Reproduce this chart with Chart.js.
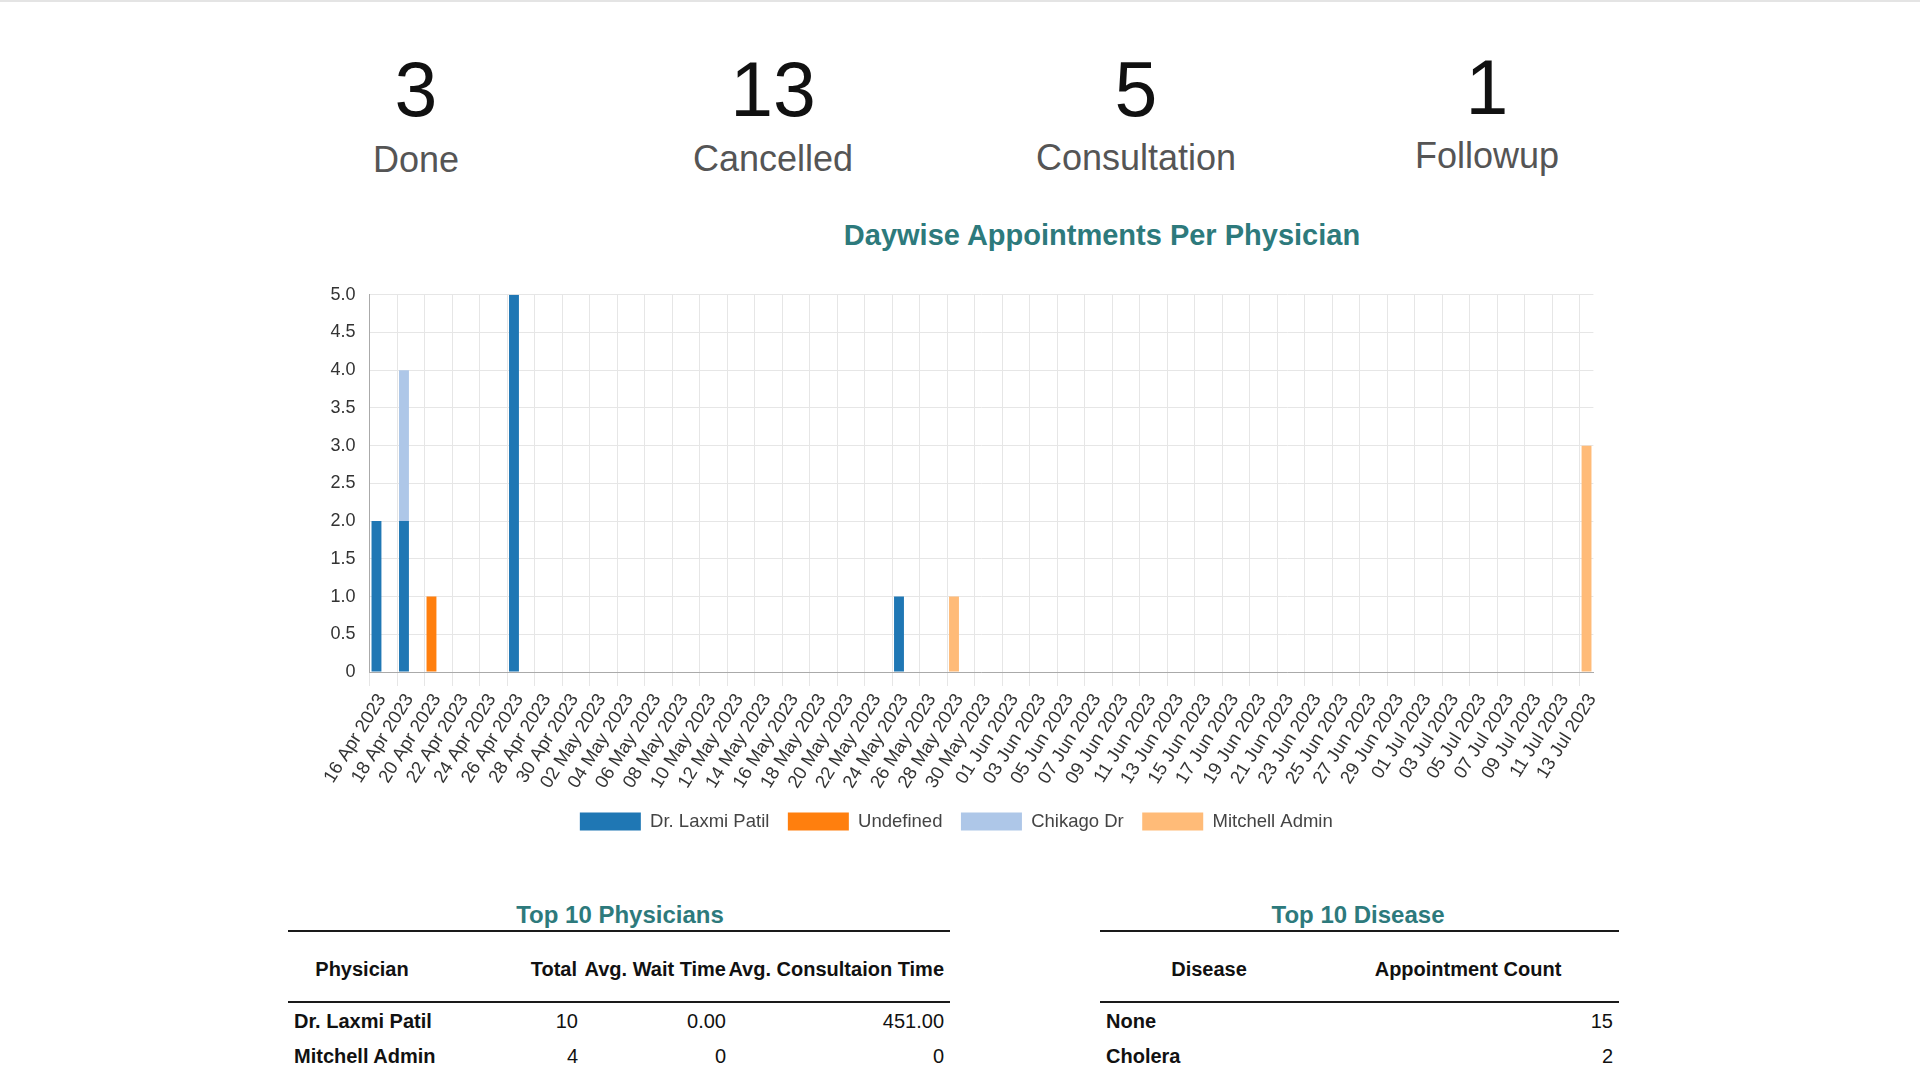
<!DOCTYPE html>
<html>
<head>
<meta charset="utf-8">
<script src="https://cdn.jsdelivr.net/npm/chart.js@4.4.0/dist/chart.umd.min.js"></script>
<style>
html,body{margin:0;padding:0;background:#fff;}
body{width:1920px;height:1066px;position:relative;overflow:hidden;font-family:'Liberation Sans',Arial,Helvetica,sans-serif;}
.topline{position:absolute;left:0;top:0;width:1920px;height:2px;background:#e4e4e4;}
.t{position:absolute;line-height:1;white-space:nowrap;}
.c{width:600px;text-align:center;}
.r{width:400px;text-align:right;}
.num{font-size:77px;color:#111;}
.lbl{font-size:36px;color:#555;}
.title{font-size:29px;font-weight:bold;color:#2d7a7c;}
.ttl{font-size:24px;font-weight:bold;color:#2d7a7c;}
.th{font-size:20px;font-weight:bold;color:#111;}
.td{font-size:20px;color:#111;}
.tb{font-size:20px;font-weight:bold;color:#111;}
.rule{position:absolute;height:2px;background:#1a1a1a;}
#chartBox{position:absolute;left:310px;top:270px;width:1312px;height:571px;}
</style>
</head>
<body>
<div class="topline"></div>

<div class="t c num" style="left:116px;top:50.5px;">3</div>
<div class="t c lbl" style="left:116px;top:142px;">Done</div>
<div class="t c num" style="left:473px;top:50.5px;">13</div>
<div class="t c lbl" style="left:473px;top:141px;">Cancelled</div>
<div class="t c num" style="left:836px;top:50.5px;">5</div>
<div class="t c lbl" style="left:836px;top:140px;">Consultation</div>
<div class="t c num" style="left:1187px;top:48.5px;">1</div>
<div class="t c lbl" style="left:1187px;top:138px;">Followup</div>

<div class="t c title" style="left:802px;top:220.5px;">Daywise Appointments Per Physician</div>

<div id="chartBox"><canvas id="chart"></canvas></div>

<!-- Top 10 Physicians -->
<div class="t c ttl" style="left:320px;top:903px;">Top 10 Physicians</div>
<div class="rule" style="left:288px;top:930px;width:662px;"></div>
<div class="t c th" style="left:62px;top:959px;">Physician</div>
<div class="t r th" style="left:177px;top:959px;">Total</div>
<div class="t r th" style="left:326px;top:959px;">Avg. Wait Time</div>
<div class="t r th" style="left:544px;top:959px;">Avg. Consultaion Time</div>
<div class="rule" style="left:288px;top:1001px;width:662px;"></div>
<div class="t tb" style="left:294px;top:1011px;">Dr. Laxmi Patil</div>
<div class="t r td" style="left:178px;top:1011px;">10</div>
<div class="t r td" style="left:326px;top:1011px;">0.00</div>
<div class="t r td" style="left:544px;top:1011px;">451.00</div>
<div class="t tb" style="left:294px;top:1046px;">Mitchell Admin</div>
<div class="t r td" style="left:178px;top:1046px;">4</div>
<div class="t r td" style="left:326px;top:1046px;">0</div>
<div class="t r td" style="left:544px;top:1046px;">0</div>

<!-- Top 10 Disease -->
<div class="t c ttl" style="left:1058px;top:903px;">Top 10 Disease</div>
<div class="rule" style="left:1100px;top:930px;width:519px;"></div>
<div class="t c th" style="left:909px;top:959px;">Disease</div>
<div class="t c th" style="left:1168px;top:959px;">Appointment Count</div>
<div class="rule" style="left:1100px;top:1001px;width:519px;"></div>
<div class="t tb" style="left:1106px;top:1011px;">None</div>
<div class="t r td" style="left:1213px;top:1011px;">15</div>
<div class="t tb" style="left:1106px;top:1046px;">Cholera</div>
<div class="t r td" style="left:1213px;top:1046px;">2</div>

<script>
// ---- data ----
const startDay = '2023-04-16';
const endDay = '2023-07-13';
const seriesNames = ['Dr. Laxmi Patil', 'Undefined', 'Chikago Dr', 'Mitchell Admin'];
const seriesColors = ['#1f77b4', '#ff7f0e', '#aec7e8', '#ffbb78'];
const laxmiDates = ['2023-04-16', '2023-04-18', '2023-04-26', '2023-05-24'];
const laxmiValues = [2, 2, 5, 1];
const undefinedDates = ['2023-04-20'];
const undefinedValues = [1];
const chikagoDates = ['2023-04-18'];
const chikagoValues = [2];
const mitchellDates = ['2023-05-28', '2023-07-13'];
const mitchellValues = [1, 3];
const yMin = 0, yMax = 5, yStep = 0.5;

const MONTHS = ['Jan','Feb','Mar','Apr','May','Jun','Jul','Aug','Sep','Oct','Nov','Dec'];
function fmt(iso) {
  const [y, m, d] = iso.split('-').map(Number);
  return String(d).padStart(2, '0') + ' ' + MONTHS[m - 1] + ' ' + y;
}
function dayRange(a, b) {
  const out = [];
  const [ya, ma, da] = a.split('-').map(Number);
  const [yb, mb, db] = b.split('-').map(Number);
  let t = Date.UTC(ya, ma - 1, da);
  const end = Date.UTC(yb, mb - 1, db);
  while (t <= end) {
    out.push(new Date(t).toISOString().slice(0, 10));
    t += 86400000;
  }
  return out;
}
const dayLabels = dayRange(startDay, endDay).map(fmt);

const seriesDates = [laxmiDates, undefinedDates, chikagoDates, mitchellDates];
const seriesValues = [laxmiValues, undefinedValues, chikagoValues, mitchellValues];

const FONT = "'Liberation Sans', Arial, Helvetica, sans-serif";
const GRID = '#e6e6e6';
const NONE = 'rgba(0,0,0,0)';

new Chart(document.getElementById('chart'), {
  type: 'bar',
  data: {
    labels: dayLabels,
    datasets: seriesNames.map((name, k) => ({
      label: name,
      data: seriesDates[k].map((d, i) => ({ x: fmt(d), y: seriesValues[k][i] })),
      backgroundColor: seriesColors[k],
      borderWidth: 0
    }))
  },
  options: {
    responsive: true,
    maintainAspectRatio: false,
    animation: false,
    layout: { padding: { top: 22.5, right: 28.6, bottom: 0.25, left: 9.2 } },
    plugins: {
      legend: {
        position: 'bottom',
        labels: { boxWidth: 61, boxHeight: 18, padding: 18.5, color: '#444', font: { size: 18.5, family: FONT } }
      },
      tooltip: { enabled: false }
    },
    scales: {
      x: {
        stacked: true,
        offset: true,
        grid: {
          offset: true,
          color: (c) => (c.index % 2 === 0 ? GRID : NONE),
          tickColor: (c) => (c.index % 2 === 0 ? GRID : NONE),
          tickLength: 14
        },
        border: { color: '#aaaaaa', width: 1 },
        ticks: {
          autoSkip: false,
          minRotation: 58,
          maxRotation: 58,
          padding: 4,
          labelOffset: 5.5,
          color: '#333',
          font: { size: 18.5, family: FONT },
          callback: function (v, i) { return i % 2 === 0 ? this.getLabelForValue(v) : ''; }
        },
        afterFit: (s) => { s.height = 121.75; }
      },
      y: {
        stacked: true,
        min: yMin,
        max: yMax,
        grid: { color: GRID, drawTicks: false },
        border: { color: '#aaaaaa', width: 1 },
        ticks: {
          stepSize: yStep,
          padding: 14,
          color: '#333',
          font: { size: 18, family: FONT },
          callback: (v) => (v === 0 ? '0' : v.toFixed(1))
        },
        afterFit: (s) => { s.width = 50.4; }
      }
    }
  }
});
</script>
</body>
</html>
